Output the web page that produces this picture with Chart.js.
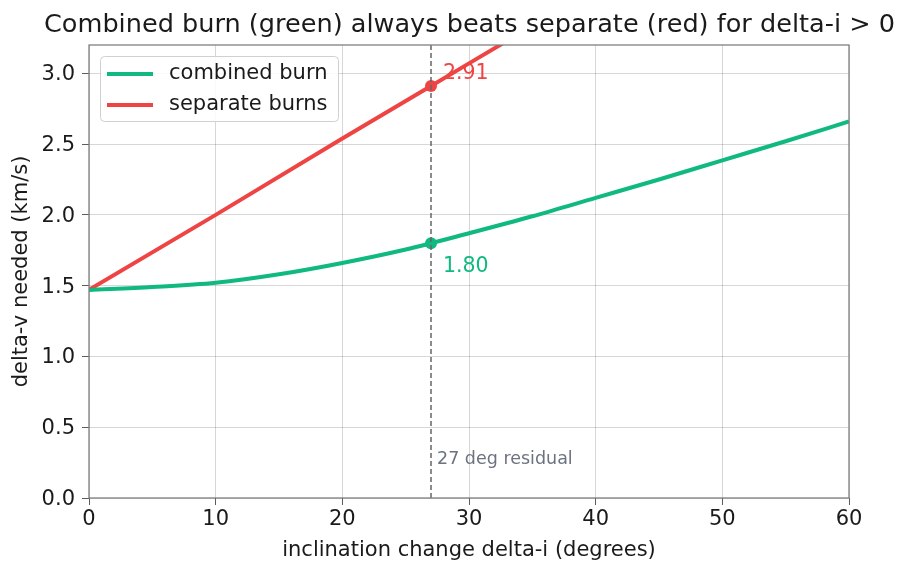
<!DOCTYPE html>
<html>
<head>
<meta charset="utf-8">
<script src="https://cdn.jsdelivr.net/npm/chart.js@4"></script>
<style>
  html, body { margin: 0; padding: 0; background: #fff; }
  #wrap { width: 909px; height: 573px; }
</style>
</head>
<body>
<div id="wrap"><canvas id="myChart" width="909" height="573"></canvas></div>
<script>
// values
var deltaI = [0, 5, 10, 15, 20, 25, 30, 35, 40, 45, 50, 55, 60];
var combinedBurn = [1.47, 1.49, 1.52, 1.58, 1.66, 1.755, 1.87, 1.99, 2.12, 2.25, 2.385, 2.52, 2.66];
var sepX = [0, 10, 20, 27, 30, 40, 50, 60];
var separateBurns = [1.47, 2.00, 2.54, 2.91, 3.07, 3.60, 4.14, 4.67];
var residualDeg = 27;
var markCombined = 1.80;
var markSeparate = 2.91;
var xTicks = [0, 10, 20, 30, 40, 50, 60];
var yTicks = [0, 0.5, 1.0, 1.5, 2.0, 2.5, 3.0];

var GREEN = '#10b981';
var RED = '#ef4444';
var FONT = "'DejaVu Sans', sans-serif";

function pts(xs, ys) {
    return xs.map(function (x, i) { return {x: x, y: ys[i]}; });
}

// title, frame, legend and text labels
var extras = {
    id: 'extras',
    afterDraw: function (chart) {
        var ctx = chart.ctx;
        var a = chart.chartArea;
        var xs = chart.scales.x, ys = chart.scales.y;
        ctx.save();

        // frame
        ctx.strokeStyle = '#808080';
        ctx.lineWidth = 1.3;
        ctx.strokeRect(a.left, a.top, a.right - a.left, a.bottom - a.top);

        // title (squeezed to the same width as the reference)
        var title = 'Combined burn (green) always beats separate (red) for delta-i > 0';
        ctx.font = '25px ' + FONT;
        ctx.fillStyle = '#1a1a1a';
        ctx.textBaseline = 'middle';
        ctx.textAlign = 'left';
        var w = ctx.measureText(title).width;
        ctx.save();
        ctx.translate(44, 25);
        ctx.scale(851 / w, 1);
        ctx.fillText(title, 0, 0);
        ctx.restore();

        // value labels
        var px = xs.getPixelForValue(residualDeg);
        ctx.font = '20.5px ' + FONT;
        ctx.fillStyle = RED;
        ctx.fillText(markSeparate.toFixed(2), px + 12, ys.getPixelForValue(markSeparate) - 12);
        ctx.fillStyle = GREEN;
        ctx.fillText(markCombined.toFixed(2), px + 12, ys.getPixelForValue(markCombined) + 23);

        ctx.font = '17.5px ' + FONT;
        ctx.fillStyle = '#6b7280';
        ctx.fillText(residualDeg + ' deg residual', px + 6, a.bottom - 39);

        // legend
        var lx = 100, ly = 56, lw = 238, lh = 65;
        ctx.fillStyle = 'rgba(255,255,255,0.85)';
        ctx.strokeStyle = '#d0d0d0';
        ctx.lineWidth = 1;
        ctx.beginPath();
        ctx.roundRect(lx + 0.5, ly + 0.5, lw, lh, 4);
        ctx.fill();
        ctx.stroke();
        var items = [['combined burn', GREEN], ['separate burns', RED]];
        ctx.font = '21px ' + FONT;
        ctx.lineWidth = 4;
        items.forEach(function (it, i) {
            var yy = ly + 18 + i * 31;
            ctx.strokeStyle = it[1];
            ctx.beginPath();
            ctx.moveTo(lx + 7, yy);
            ctx.lineTo(lx + 53, yy);
            ctx.stroke();
            ctx.fillStyle = '#1a1a1a';
            ctx.fillText(it[0], lx + 69, yy);
        });
        ctx.restore();
    }
};

var ctx = document.getElementById('myChart');
var myChart = new Chart(ctx, {
    type: 'line',
    data: {
        datasets: [
            {
                label: 'residual',
                data: [{x: residualDeg, y: 0}, {x: residualDeg, y: 3.2}],
                borderColor: '#666',
                borderWidth: 1.5,
                borderDash: [5, 3],
                pointRadius: 0
            },
            {
                label: 'combined burn',
                data: pts(deltaI, combinedBurn),
                borderColor: GREEN,
                borderWidth: 4,
                pointRadius: 0,
                cubicInterpolationMode: 'monotone'
            },
            {
                label: 'separate burns',
                data: pts(sepX, separateBurns),
                borderColor: RED,
                borderWidth: 4,
                pointRadius: 0
            },
            {
                label: 'mark combined',
                data: [{x: residualDeg, y: markCombined}],
                showLine: false,
                pointRadius: 6,
                pointBackgroundColor: GREEN,
                pointBorderWidth: 0
            },
            {
                label: 'mark separate',
                data: [{x: residualDeg, y: markSeparate}],
                showLine: false,
                pointRadius: 6,
                pointBackgroundColor: RED,
                pointBorderWidth: 0
            }
        ]
    },
    options: {
        responsive: false,
        animation: false,
        layout: { padding: { top: 45, left: 0, right: 60, bottom: 0 } },
        plugins: {
            legend: { display: false },
            tooltip: { enabled: false }
        },
        scales: {
            x: {
                type: 'linear',
                min: 0,
                max: 60,
                afterBuildTicks: function (s) { s.ticks = xTicks.map(function (v) { return {value: v}; }); },
                afterFit: function (s) { s.height = 75; },
                grid: { color: 'rgba(0,0,0,0.2)', lineWidth: 0.8, tickColor: '#333', tickLength: 7, drawTicks: true },
                border: { display: false },
                ticks: { color: '#1a1a1a', font: { family: FONT, size: 21 }, padding: 2, maxRotation: 0 },
                title: { display: true, text: 'inclination change delta-i (degrees)', color: '#1a1a1a', font: { family: FONT, size: 21 }, padding: { top: 0, bottom: 10 } }
            },
            y: {
                min: 0,
                max: 3.2,
                afterBuildTicks: function (s) { s.ticks = yTicks.map(function (v) { return {value: v}; }); },
                afterFit: function (s) { s.width = 89; },
                grid: { color: 'rgba(0,0,0,0.2)', lineWidth: 0.8, tickColor: '#333', tickLength: 7 },
                border: { display: false },
                ticks: { color: '#1a1a1a', font: { family: FONT, size: 21 }, padding: 7, labelOffset: 1.5, callback: function (v) { return v.toFixed(1); } },
                title: { display: true, text: 'delta-v needed (km/s)', color: '#1a1a1a', font: { family: FONT, size: 21 }, padding: { top: 9, bottom: 0 } }
            }
        }
    },
    plugins: [extras]
});
</script>
</body>
</html>
